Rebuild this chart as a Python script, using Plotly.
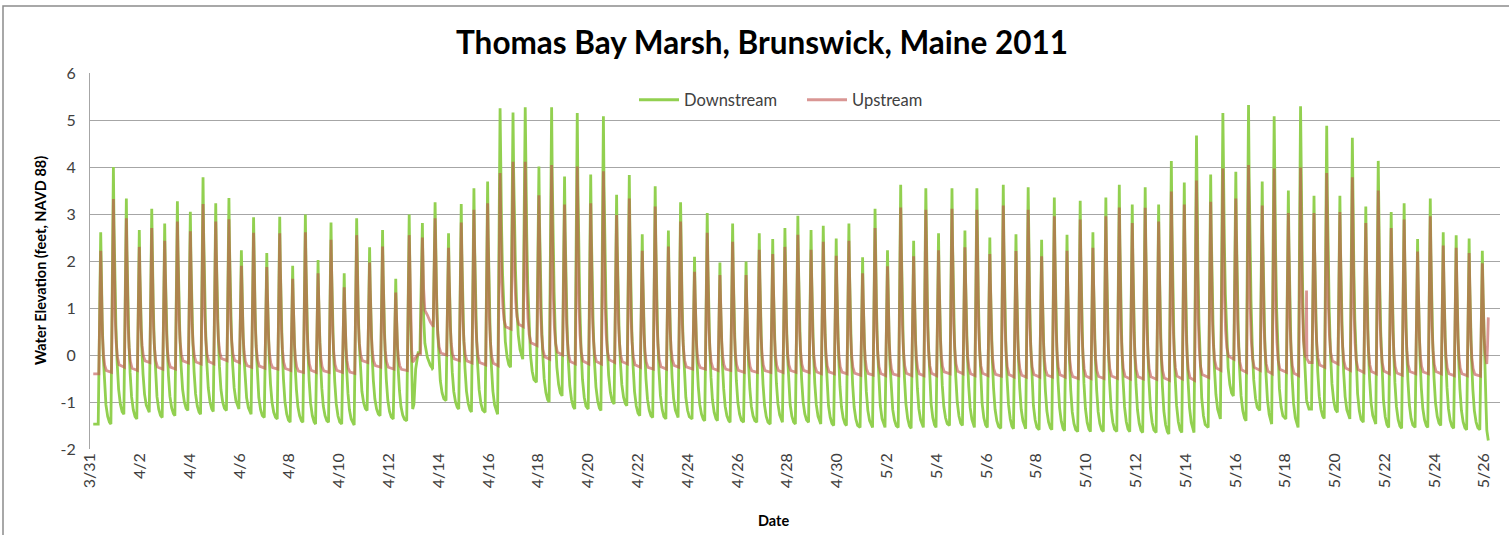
import datetime as dt
import plotly.graph_objects as go

# ---------------- data ----------------
start_date = dt.datetime(2011, 3, 31)

# time of each high tide (days after 3/31 00:00)
peak_day = [0.43, 0.94, 1.46, 1.98, 2.48, 3.00, 3.51, 4.03, 4.54, 5.05, 5.58, 6.08, 6.57,
            7.10, 7.62, 8.14, 8.65, 9.16, 9.68, 10.21, 10.71, 11.23, 11.75, 12.28, 12.82, 13.35,
            13.86, 14.40, 14.91, 15.42, 15.97, 16.47, 16.99, 17.48, 18.03, 18.54, 19.06, 19.57, 20.11,
            20.62, 21.15, 21.66, 22.18, 22.70, 23.23, 23.72, 24.28, 24.79, 25.30, 25.81, 26.35, 26.88,
            27.42, 27.91, 28.43, 28.96, 29.45, 29.97, 30.48, 31.03, 31.53, 32.03, 32.56, 33.08, 33.57,
            34.08, 34.62, 35.14, 35.62, 36.14, 36.68, 37.19, 37.68, 38.22, 38.73, 39.24, 39.77, 40.28,
            40.80, 41.34, 41.86, 42.38, 42.92, 43.43, 43.95, 44.44, 45.01, 45.50, 46.02, 46.53, 47.08, 47.56,
            48.13, 48.62, 49.16, 49.67, 50.20, 50.70, 51.24, 51.74, 52.26, 52.78, 53.32, 53.83, 54.35,
            54.87, 55.39, 55.92]

down_peak = [2.61, 4.00, 3.33, 2.66, 3.11, 2.80, 3.27, 3.05, 3.78, 3.23, 3.34, 2.23, 2.93,
             2.17, 2.94, 1.90, 2.99, 2.02, 2.82, 1.74, 2.91, 2.29, 2.66, 1.62, 2.99, 2.81,
             3.25, 2.59, 3.21, 3.55, 3.69, 5.25, 5.16, 5.27, 4.01, 5.27, 3.80, 5.15, 3.84,
             5.08, 3.41, 3.83, 2.57, 3.59, 2.65, 3.25, 2.09, 3.02, 1.97, 2.80, 1.99, 2.59,
             2.47, 2.70, 2.96, 2.66, 2.75, 2.48, 2.80, 2.08, 3.11, 2.23, 3.62, 2.43, 3.55,
             2.59, 3.55, 2.65, 3.55, 2.50, 3.62, 2.57, 3.57, 2.45, 3.35, 2.56, 3.28, 2.61,
             3.35, 3.62, 3.20, 3.57, 3.20, 4.13, 3.67, 4.67, 3.84, 5.15, 3.90, 5.32, 3.69, 5.08,
             3.50, 5.29, 3.39, 4.88, 3.39, 4.62, 3.16, 4.13, 3.04, 3.23, 2.47, 3.33, 2.61,
             2.55, 2.48, 2.22]

up_peak = [2.22, 3.32, 2.91, 2.30, 2.70, 2.43, 2.84, 2.63, 3.21, 2.84, 2.89, 1.90, 2.60,
           1.87, 2.59, 1.62, 2.61, 1.74, 2.45, 1.44, 2.55, 1.97, 2.31, 1.33, 2.55, 2.50,
           2.91, 2.28, 2.82, 3.09, 3.23, 3.87, 4.11, 4.11, 3.40, 4.04, 3.20, 4.01, 3.23,
           3.91, 2.98, 3.33, 2.22, 3.16, 2.31, 2.84, 1.77, 2.60, 1.70, 2.41, 1.70, 2.24,
           2.15, 2.30, 2.56, 2.24, 2.41, 2.11, 2.43, 1.74, 2.70, 1.89, 3.14, 2.10, 3.09,
           2.23, 3.11, 2.29, 3.09, 2.15, 3.18, 2.21, 3.09, 2.10, 2.95, 2.22, 2.88, 2.28,
           2.95, 3.14, 2.81, 3.13, 2.84, 3.48, 3.20, 3.71, 3.26, 3.97, 3.33, 4.04, 3.18, 3.97,
           3.02, 3.99, 3.02, 3.87, 3.04, 3.78, 2.81, 3.50, 2.70, 2.88, 2.20, 2.95, 2.33,
           2.28, 2.17, 1.95]

# low water after each high tide (last entry unused: record ends)
down_low = [-1.47, -1.26, -1.36, -1.22, -1.33, -1.29, -1.18, -1.26, -1.20, -1.18, -1.15, -1.26, -1.33,
            -1.36, -1.43, -1.43, -1.47, -1.43, -1.47, -1.49, -1.18, -1.29, -1.36, -1.40, -1.15, -0.30,
            -0.97, -1.15, -1.21, -1.22, -1.26, -0.26, -0.09, -0.58, -1.00, -0.87, -1.15, -1.15, -1.18,
            -1.04, -1.08, -1.29, -1.33, -1.36, -1.33, -1.36, -1.40, -1.40, -1.43, -1.43, -1.43, -1.47,
            -1.43, -1.47, -1.43, -1.47, -1.50, -1.50, -1.54, -1.54, -1.54, -1.54, -1.56, -1.54, -1.54,
            -1.50, -1.50, -1.54, -1.54, -1.56, -1.57, -1.57, -1.59, -1.59, -1.61, -1.63, -1.63, -1.63,
            -1.63, -1.63, -1.65, -1.65, -1.68, -1.65, -1.65, -1.54, -1.36, -0.87, -1.40, -1.18, -1.47, -1.36,
            -1.54, -1.15, -1.35, -1.22, -1.36, -1.43, -1.47, -1.54, -1.56, -1.54, -1.54, -1.50, -1.56,
            -1.59, -1.59, -1.79]

up_low = [-0.37, -0.26, -0.33, -0.16, -0.30, -0.30, -0.17, -0.19, -0.19, -0.12, -0.16, -0.26, -0.28,
          -0.30, -0.33, -0.37, -0.37, -0.37, -0.37, -0.39, -0.16, -0.26, -0.30, -0.33, -0.16, 0.62,
          0.00, -0.12, -0.17, -0.21, -0.23, 0.55, 0.60, 0.20, -0.09, 0.00, -0.19, -0.19, -0.19,
          -0.16, -0.19, -0.26, -0.30, -0.30, -0.26, -0.30, -0.30, -0.33, -0.33, -0.37, -0.37, -0.37,
          -0.37, -0.37, -0.37, -0.40, -0.40, -0.40, -0.43, -0.43, -0.44, -0.44, -0.44, -0.44, -0.44,
          -0.40, -0.40, -0.44, -0.44, -0.45, -0.47, -0.47, -0.47, -0.47, -0.47, -0.50, -0.50, -0.50,
          -0.50, -0.51, -0.51, -0.52, -0.54, -0.51, -0.54, -0.48, -0.33, -0.09, -0.37, -0.33, -0.40, -0.37,
          -0.44, -0.16, -0.26, -0.19, -0.33, -0.37, -0.40, -0.40, -0.43, -0.40, -0.40, -0.40, -0.44,
          -0.44, -0.45, 0.80]

# record start (days, downstream, upstream)
record_start = (0.13, -1.47, -0.40)

# irregular stretches read point by point: peak index -> [(days after peak, down, up)]
irregular_after = {
    24: [(0.05, 0.9, 1.1), (0.10, -0.6, 0.1), (0.14, -1.15, -0.15), (0.19, -1.05, -0.12),
         (0.26, -0.3, -0.05), (0.36, 0.05, 0.02)],
    25: [(0.05, 0.8, 1.4), (0.10, 0.25, 0.95), (0.20, -0.05, 0.85), (0.32, -0.22, 0.70),
         (0.42, -0.30, 0.62)],
    93: [(0.03, 3.4, 2.4), (0.07, 1.8, 1.1), (0.12, 0.4, 0.3), (0.18, -0.5, 0.0),
         (0.225, -0.85, -0.05), (0.24, -0.95, 1.37), (0.255, -1.0, -0.08), (0.34, -1.15, -0.16)],
    107: [(0.03, 1.3, 1.1), (0.07, 0.3, 0.4), (0.11, -0.4, 0.05), (0.15, -1.1, -0.15),
          (0.18, -1.6, -0.19), (0.21, -1.79, 0.2), (0.24, -1.82, 0.80)],
}

# ---------------- build the two traces ----------------
DOWN_FALL = [(0.0, 1.0), (0.025, 0.76), (0.06, 0.54), (0.10, 0.36), (0.15, 0.21),
             (0.21, 0.10), (0.28, 0.04), (0.35, 0.01)]
UP_FALL = [(0.0, 1.0), (0.03, 0.58), (0.07, 0.30), (0.11, 0.15), (0.16, 0.06), (0.23, 0.015)]
DOWN_RISE = 0.10
UP_RISE = 0.075


def to_date(d):
    return start_date + dt.timedelta(days=d)


def build(peaks, lows, fall, rise, col):
    xs, ys = [], []
    xs.append(record_start[0]); ys.append(record_start[col])
    xs.append(peak_day[0] - rise); ys.append(record_start[col])
    n = len(peak_day)
    for i in range(n):
        tp, p = peak_day[i], peaks[i]
        if i in irregular_after:
            xs.append(tp); ys.append(p)
            for dd, g, u in irregular_after[i]:
                xs.append(tp + dd); ys.append(g if col == 1 else u)
            if i + 1 < n:
                xs.append(peak_day[i + 1] - rise)
                ys.append(ys[-1])
            continue
        low = lows[i]
        for dd, f in fall:
            xs.append(tp + dd); ys.append(low + f * (p - low))
        if i + 1 < n:
            xs.append(peak_day[i + 1] - rise); ys.append(low)
    return [to_date(v) for v in xs], ys


dx, dy = build(down_peak, down_low, DOWN_FALL, DOWN_RISE, 1)
ux, uy = build(up_peak, up_low, UP_FALL, UP_RISE, 2)

y_ticks = [-2, -1, 0, 1, 2, 3, 4, 5, 6]
y_text = [str(v) for v in y_ticks]

fig = go.Figure()
fig.add_trace(go.Scatter(x=dx, y=dy, mode="lines", name="Downstream", legend="legend",
                         line=dict(color="#92D050", width=2.8)))
fig.add_trace(go.Scatter(x=ux, y=uy, mode="lines", name="Upstream", legend="legend2",
                         line=dict(color="rgba(192,80,77,0.6)", width=2.8)))

W, H = 1509, 535
L, R, T, B = 90, 9, 73, 86
pw, ph = W - L - R, H - T - B

def px(x):
    return (x - L) / pw

def py(y):
    return (H - B - y) / ph

leg_font = dict(size=16.5, family="Lato", color="#404040")

fig.update_layout(
    width=W, height=H,
    margin=dict(l=L, r=R, t=T, b=B),
    paper_bgcolor="white", plot_bgcolor="white",
    font=dict(family="Lato", color="#404040"),
    showlegend=True,
    legend=dict(orientation="h", x=px(634), xanchor="left", y=py(100), yanchor="middle",
                font=leg_font, bgcolor="rgba(0,0,0,0)", itemwidth=40),
    legend2=dict(orientation="h", x=px(802), xanchor="left", y=py(100), yanchor="middle",
                 font=leg_font, bgcolor="rgba(0,0,0,0)", itemwidth=40),
    xaxis=dict(type="date",
               range=[to_date(0), to_date(56.63)],
               tick0=to_date(0), dtick=2 * 86400000, tickformat="%-m/%-d",
               tickangle=-90, tickfont=dict(size=16, family="Lato", color="#404040"),
               showgrid=False, showline=False, zeroline=False, ticks=""),
    yaxis=dict(range=[-2, 6], tickvals=y_ticks, ticktext=y_text,
               tickfont=dict(size=16, family="Lato", color="#404040"),
               showgrid=True, gridcolor="#A6A6A6", gridwidth=1,
               showline=True, linecolor="#A6A6A6", linewidth=1, zeroline=False,
               ticks="", ticklabelstandoff=10),
    shapes=[dict(type="rect", xref="paper", yref="paper",
                 x0=px(3), x1=px(1515), y0=py(545), y1=py(6),
                 line=dict(color="#8C8C8C", width=1.5), fillcolor="rgba(0,0,0,0)", layer="below")],
    annotations=[
        dict(text="<b>Thomas Bay Marsh, Brunswick, Maine 2011</b>", xref="paper", yref="paper",
             x=px(762), y=py(42), xanchor="center", yanchor="middle", showarrow=False,
             font=dict(size=31.5, family="Lato", color="#000000")),
        dict(text="<b>Water Elevation (feet, NAVD 88)</b>", xref="paper", yref="paper",
             x=px(40), y=py(261), xanchor="center", yanchor="middle", showarrow=False, textangle=-90,
             font=dict(size=14.5, family="Lato", color="#000000")),
        dict(text="<b>Date</b>", xref="paper", yref="paper",
             x=px(773), y=py(520), xanchor="center", yanchor="middle", showarrow=False,
             font=dict(size=14.5, family="Lato", color="#000000")),
    ],
)

fig.write_html("out.html", config={"displayModeBar": False},
               post_script="document.body.style.margin='0';document.body.style.overflow='hidden';")
